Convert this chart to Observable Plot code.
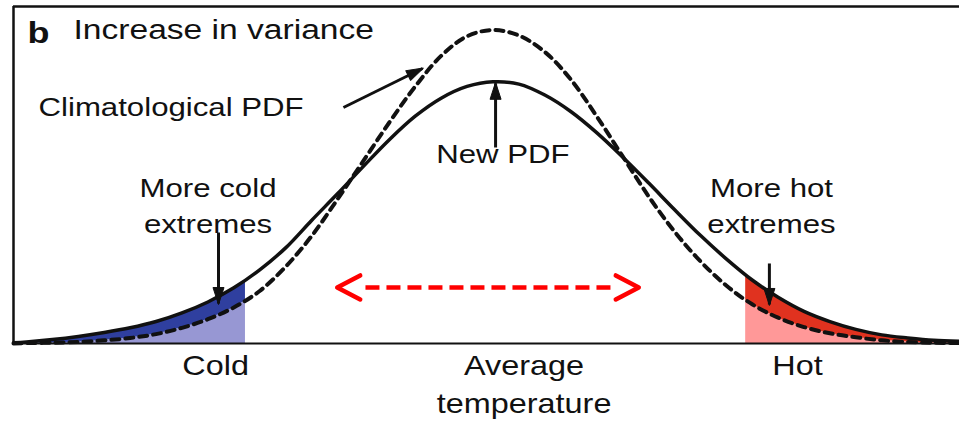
<!DOCTYPE html>
<html><head><meta charset="utf-8">
<script src="https://cdn.jsdelivr.net/npm/d3@7"></script>
<script src="https://cdn.jsdelivr.net/npm/@observablehq/plot@0.6"></script>
<style>
html,body{margin:0;padding:0;background:#fff;}
#chart svg{display:block;}
</style></head><body><div id="chart"></div>
<script>
// Temperature (in units of the climatological standard deviation)
const temperature = [-3.7,-3.6,-3.4,-3.2,-3.0,-2.8,-2.6,-2.4,-2.2,-2.0,-1.8,-1.6,-1.4,-1.2,-1.0,-0.8,-0.6,-0.4,-0.2,0,
  0.2,0.4,0.6,0.8,1.0,1.2,1.4,1.6,1.8,2.0,2.2,2.4,2.6,2.8,3.0,3.2,3.4,3.6];
// New PDF (solid) – increased variance
const newPDF = [0.001,0.002,0.005,0.009,0.014,0.020,0.028,0.039,0.053,0.071,0.094,0.122,0.157,0.191,0.226,0.260,0.290,0.313,0.328,0.334,
  0.331,0.317,0.296,0.269,0.238,0.205,0.171,0.138,0.108,0.081,0.059,0.041,0.028,0.018,0.011,0.007,0.004,0.003];
// Climatological PDF (dashed)
const climatologicalPDF = [0,0.0005,0.001,0.002,0.004,0.007,0.012,0.020,0.031,0.046,0.067,0.098,0.137,0.184,0.233,0.282,0.328,0.367,0.392,0.400,
  0.393,0.372,0.337,0.290,0.239,0.188,0.143,0.105,0.074,0.050,0.033,0.021,0.013,0.008,0.004,0.002,0.001,0.0005];

const coldEdge = -1.91;
const hotEdge = 1.95;

const axisTicks = [-2.14, 0.24, 2.35];
const axisLabels = ["Cold", "Average\ntemperature", "Hot"];

const curveLabel = "Climatological PDF";
const curveLabelX = -3.507;
const curveLabelY = 0.2909;

const annotationLabels = ["New PDF", "More cold\nextremes", "More hot\nextremes"];
const annotationX = [0.077, -2.199, 2.149];
const annotationY = [0.2297, 0.1416, 0.1416];

const arrowX1 = [-1.154, 0.02, -2.118, 2.133];
const arrowY1 = [0.3011, 0.2501, 0.1416, 0.1021];
const arrowX2 = [-0.544, 0.02, -2.118, 2.133];
const arrowY2 = [0.3509, 0.332, 0.0510, 0.0498];

const shiftTips = [-1.202, 1.125];
const shiftShaft = [-0.984, 0.930];
const shiftY = 0.0715;

const rows = temperature.map((t, i) => ({t, newPDF: newPDF[i], clim: climatologicalPDF[i]}));
const annotations = annotationLabels.map((text, i) => ({text, x: annotationX[i], y: annotationY[i]}));
const arrows = arrowX1.map((x1, i) => ({x1, y1: arrowY1[i], x2: arrowX2[i], y2: arrowY2[i]}));
const axisLabelOf = new Map(axisTicks.map((t, i) => [t, axisLabels[i]]));

const SVGNS = "http://www.w3.org/2000/svg";
function marker(pathD, viewBox, w, h, orient, filled) {
  return (color) => {
    const m = document.createElementNS(SVGNS, "marker");
    m.setAttribute("viewBox", viewBox);
    m.setAttribute("markerWidth", w);
    m.setAttribute("markerHeight", h);
    m.setAttribute("markerUnits", "userSpaceOnUse");
    m.setAttribute("orient", orient);
    m.setAttribute("overflow", "visible");
    const p = document.createElementNS(SVGNS, "path");
    p.setAttribute("d", pathD);
    p.setAttribute("stroke-opacity", 1);
    p.setAttribute("fill-opacity", 1);
    p.setAttribute("stroke-dasharray", "none");
    if (filled) {
      p.setAttribute("fill", color);
      p.setAttribute("stroke", color);
      p.setAttribute("stroke-width", 1);
    } else {
      p.setAttribute("fill", "none");
      p.setAttribute("stroke", color);
      p.setAttribute("stroke-width", 4.5);
      p.setAttribute("stroke-linecap", "round");
      p.setAttribute("stroke-linejoin", "round");
    }
    m.appendChild(p);
    return m;
  };
}
const triangleEnd = marker("M-16,-5.5L1,0L-16,5.5Z", "-18 -7 20 14", 20, 14, "auto", true);
const chevronEnd = marker("M-23,-12L0,0L-23,12", "-26 -15 28 30", 28, 30, "auto", false);
const chevronStart = marker("M-23,-12L0,0L-23,12", "-26 -15 28 30", 28, 30, "auto-start-reverse", false);

const font = "'Liberation Sans', Arial, Helvetica, sans-serif";
const curve = "catmull-rom";
const ink = "#111";

const chart = Plot.plot({
  width: 959,
  height: 423,
  marginLeft: 13,
  marginRight: 0,
  marginTop: 6,
  marginBottom: 80,
  style: {fontFamily: font, color: ink, background: "#fff"},
  x: {domain: [-3.7, 3.6]},
  y: {domain: [0, 0.43], axis: null},
  marks: [
    Plot.areaY(rows, {filter: d => d.t <= 0, x: "t", y1: 0, y2: "clim", fill: "#9797d3", curve}),
    Plot.areaY(rows, {filter: d => d.t <= 0, x: "t", y1: "clim", y2: "newPDF", fill: "#2f3f9f", curve}),
    Plot.areaY(rows, {filter: d => d.t >= 0, x: "t", y1: 0, y2: "clim", fill: "#ff9898", curve}),
    Plot.areaY(rows, {filter: d => d.t >= 0, x: "t", y1: "clim", y2: "newPDF", fill: "#e0321f", curve}),
    Plot.rect([0], {x1: coldEdge, x2: hotEdge, y1: 0, y2: 0.43, fill: "white"}),
    Plot.line(rows, {x: "t", y: "clim", stroke: ink, strokeWidth: 4, strokeDasharray: "8,6", curve}),
    Plot.line(rows, {x: "t", y: "newPDF", stroke: ink, strokeWidth: 3.5, curve}),
    Plot.ruleX([-3.7], {stroke: ink, strokeWidth: 2.5}),
    Plot.ruleY([0], {stroke: ink, strokeWidth: 2.2}),
    Plot.ruleY([0.43], {stroke: ink, strokeWidth: 2.5}),
    Plot.link(arrows, {x1: "x1", y1: "y1", x2: "x2", y2: "y2", stroke: ink, strokeWidth: 3, markerEnd: triangleEnd}),
    Plot.link([0], {x1: shiftShaft[0], x2: shiftShaft[1], y1: shiftY, y2: shiftY, stroke: "#ff0000", strokeWidth: 4.5, strokeDasharray: "14,7"}),
    Plot.link([0], {x1: shiftTips[0], x2: shiftTips[1], y1: shiftY, y2: shiftY, stroke: "#ff0000", strokeOpacity: 0, markerStart: chevronStart, markerEnd: chevronEnd}),
    Plot.text([curveLabel], {x: curveLabelX, y: curveLabelY, text: d => d, textAnchor: "start", lineAnchor: "bottom", fontSize: 26, fill: ink}),
    Plot.text(annotations, {x: "x", y: "y", text: "text", textAnchor: "middle", lineAnchor: "bottom", lineHeight: 1.35, fontSize: 26, fill: ink}),
    Plot.text(["b"], {frameAnchor: "top-left", dx: 14, dy: 36, text: d => d, textAnchor: "start", lineAnchor: "bottom", fontSize: 30, fontWeight: "bold", fill: ink}),
    Plot.text(["Increase in variance"], {frameAnchor: "top-left", dx: 60, dy: 32, text: d => d, textAnchor: "start", lineAnchor: "bottom", fontSize: 28, fill: ink}),
    Plot.axisX({ticks: axisTicks, tickFormat: d => axisLabelOf.get(d), tickSize: 0, tickPadding: 5, fontSize: 27, lineHeight: 1.4, label: null})
  ]
});

// The reference lettering is horizontally wide: stretch each label around its anchor.
chart.querySelectorAll("text").forEach(t => {
  const tr = t.getAttribute("transform");
  if (tr != null) {
    t.setAttribute("transform", tr + " scale(1.2,1)");
  } else {
    const x = +t.getAttribute("x") || 0, y = +t.getAttribute("y") || 0;
    t.removeAttribute("x"); t.removeAttribute("y");
    t.setAttribute("transform", `translate(${x},${y}) scale(1.2,1)`);
  }
});

document.getElementById("chart").appendChild(chart);
</script>
</body></html>
